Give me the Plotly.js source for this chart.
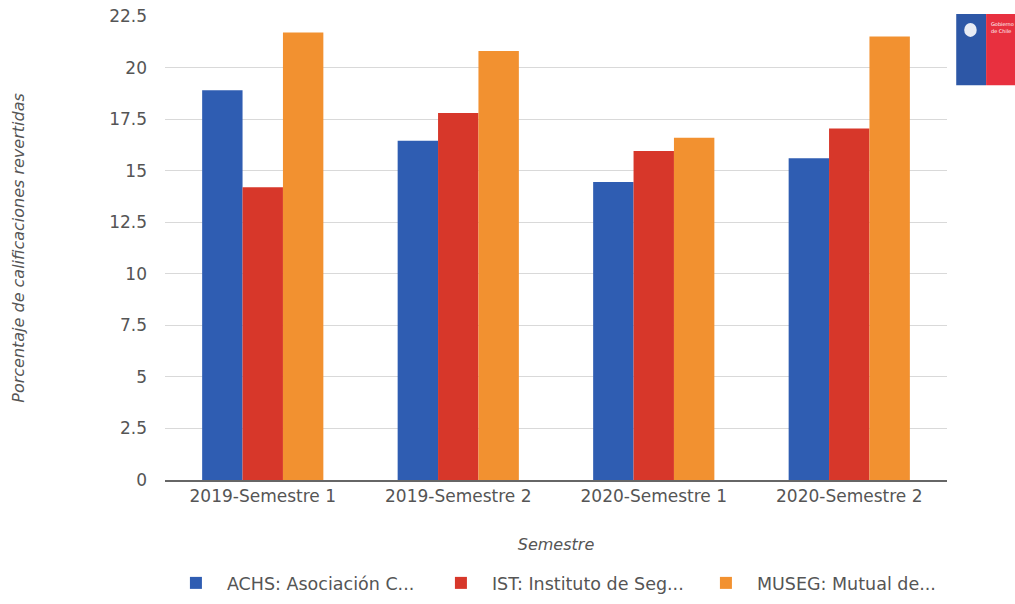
<!DOCTYPE html>
<html>
<head>
<meta charset="utf-8">
<script src="https://cdn.plot.ly/plotly-3.0.1.min.js"></script>
<style>
  html, body { margin: 0; padding: 0; background: #ffffff; }
  #chart { width: 1015px; height: 604px; }
</style>
</head>
<body>
<div id="chart"></div>
<script>
const categories = ["2019-Semestre 1", "2019-Semestre 2", "2020-Semestre 1", "2020-Semestre 2"];
const seriesNames = ["ACHS: Asociación C...", "IST: Instituto de Seg...", "MUSEG: Mutual de..."];
const achs  = [18.9, 16.45, 14.45, 15.6];
const ist   = [14.2, 17.8, 15.95, 17.05];
const museg = [21.7, 20.8, 16.6, 21.5];
const yTickVals = [0, 2.5, 5, 7.5, 10, 12.5, 15, 17.5, 20, 22.5];
const yTickText = ["0", "2.5", "5", "7.5", "10", "12.5", "15", "17.5", "20", "22.5"];
const colors = ["#2f5db2", "#d7372a", "#f29130"];

const FONT = "DejaVu Sans, Liberation Sans, Arial, sans-serif";
const seriesValues = [achs, ist, museg];

const traces = seriesValues.map((vals, i) => ({
  type: "bar",
  name: seriesNames[i],
  x: categories,
  y: vals,
  marker: { color: colors[i], line: { width: 0 } },
  hoverinfo: "x+y+name"
}));

const layout = {
  width: 1015,
  height: 604,
  margin: { l: 165, r: 68, t: 16, b: 124, autoexpand: false },
  paper_bgcolor: "#ffffff",
  plot_bgcolor: "#ffffff",
  barmode: "group",
  bargap: 0.38,
  bargroupgap: 0,
  font: { family: FONT, color: "#555555", size: 16 },
  xaxis: {
    showline: true,
    linecolor: "#666666",
    linewidth: 2,
    showgrid: false,
    ticks: "",
    tickfont: { family: FONT, size: 17, color: "#555555" },
    title: { text: "Semestre", font: { family: FONT, size: 16, color: "#555555", style: "italic" }, standoff: 33 },
    automargin: false
  },
  yaxis: {
    range: [0, 22.5],
    tickvals: yTickVals,
    ticktext: yTickText,
    showgrid: true,
    gridcolor: "#d9d9d9",
    gridwidth: 1,
    zeroline: false,
    showline: false,
    ticks: "",
    ticklabelstandoff: 17,
    tickfont: { family: FONT, size: 17, color: "#555555" },
    title: { text: "Porcentaje de calificaciones revertidas", font: { family: FONT, size: 16, color: "#555555", style: "italic" }, standoff: 80 },
    automargin: false
  },
  legend: {
    orientation: "h",
    x: -0.0001,
    xanchor: "left",
    y: -0.222,
    yanchor: "middle",
    font: { family: FONT, size: 17.5, color: "#555555" },
    entrywidth: 198,
    entrywidthmode: "pixels",
    itemwidth: 52,
    borderwidth: 0,
    traceorder: "normal"
  },
  shapes: [
    { type: "rect", xref: "paper", yref: "paper", x0: 1.0118, x1: 1.050, y0: 0.851, y1: 1.0043, fillcolor: "#2d57a6", line: { width: 0 } },
    { type: "rect", xref: "paper", yref: "paper", x0: 1.050, x1: 1.09, y0: 0.851, y1: 1.0043, fillcolor: "#e8303f", line: { width: 0 } },
    { type: "circle", xref: "paper", yref: "paper", x0: 1.022, x1: 1.038, y0: 0.955, y1: 0.985, fillcolor: "#e8ecf5", line: { width: 0 } }
  ],
  annotations: [
    { xref: "paper", yref: "paper", x: 1.054, y: 0.975, xanchor: "left", yanchor: "middle", text: "Gobierno<br>de Chile", showarrow: false, align: "left", font: { family: FONT, size: 5, color: "#ffffff" } }
  ]
};

Plotly.newPlot("chart", traces, layout, { displayModeBar: false, staticPlot: true });
</script>
</body>
</html>
